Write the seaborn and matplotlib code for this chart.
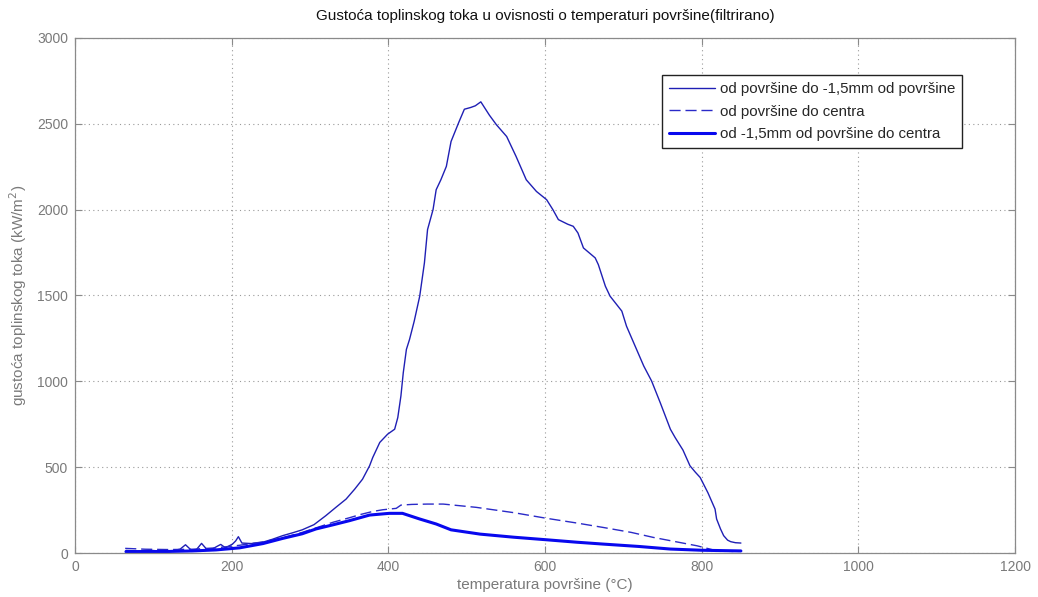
import numpy as np
import pandas as pd
import matplotlib
matplotlib.use("Agg")
import matplotlib.pyplot as plt
import seaborn as sns

# ---- data ----
x_surf_15 = [65, 80, 95, 110, 125, 134, 141, 148, 155, 161.5, 168, 176, 181, 186, 192, 201, 205, 208.5, 213,
             225, 239, 252, 265, 278, 290, 305, 320, 333, 346, 357, 367, 376, 380, 389, 399, 408, 412, 416,
             419, 423, 427, 433, 440, 446, 450, 457, 461, 467, 474, 480, 490, 497, 505, 511, 518, 529, 538,
             551, 563, 576, 589, 602, 610, 617, 629, 636, 642, 649, 664, 668, 677, 683, 698, 704, 715, 726,
             736, 747, 760, 766, 776, 785, 792, 798, 808, 817, 819, 824, 828, 833, 837, 843, 850]
y_surf_15 = [15, 12, 16, 11, 14, 22, 48, 18, 20, 56, 22, 25, 38, 50, 30, 52, 70, 95, 58,
             55, 62, 80, 101, 118, 135, 165, 217, 266, 314, 372, 430, 508, 556, 644, 692, 721, 789, 915,
             1050, 1186, 1244, 1351, 1496, 1690, 1884, 2000, 2116, 2174, 2252, 2397, 2510, 2585, 2595, 2605, 2628, 2550, 2494,
             2426, 2310, 2174, 2106, 2058, 2000, 1942, 1915, 1903, 1864, 1777, 1719, 1680, 1554, 1496, 1409, 1321, 1205, 1089,
             1002, 876, 721, 673, 600, 508, 470, 440, 350, 256, 198, 140, 101, 75, 66, 60, 58]

x_surf_c = [64, 90, 120, 150, 180, 210, 240, 265, 290, 310, 330, 350, 365, 380, 393, 410, 416, 430, 450, 470,
            512, 560, 602, 640, 674, 710, 738, 770, 794, 819, 845]
y_surf_c = [27, 22, 20, 22, 30, 45, 65, 88, 120, 150, 180, 205, 225, 242, 252, 260, 279, 283, 285, 285,
            266, 235, 202, 175, 149, 120, 91, 63, 42, 13, 8]

x_15_c = [65, 90, 120, 150, 180, 210, 240, 265, 290, 307.5, 330, 350, 376, 401, 418, 440, 461, 480, 517,
          560, 602, 640, 674, 720, 760, 800, 850]
y_15_c = [8, 8, 9, 12, 18, 30, 55, 85, 112, 140, 165, 188, 221, 231, 231, 198, 169, 135, 110,
          92, 77, 63, 52, 38, 23, 16, 12]

labels = ["od površine do -1,5mm od površine", "od površine do centra", "od -1,5mm od površine do centra"]

frames = [
    pd.DataFrame({"T": x_surf_15, "q": y_surf_15, "serija": labels[0]}),
    pd.DataFrame({"T": x_surf_c, "q": y_surf_c, "serija": labels[1]}),
    pd.DataFrame({"T": x_15_c, "q": y_15_c, "serija": labels[2]}),
]

sns.set_theme(style="white")
plt.rcParams["font.family"] = ["Liberation Sans", "DejaVu Sans"]

fig = plt.figure(figsize=(10.38, 5.97), dpi=100)
ax = fig.add_axes([0.0723, 0.0737, 0.9056, 0.8627])

styles = [
    dict(color="#1f1fb4", linewidth=1.0, linestyle="-"),
    dict(color="#2a2ac8", linewidth=1.0, linestyle=(0, (8, 3.5))),
    dict(color="#0808ee", linewidth=2.2, linestyle="-"),
]
for df, st, lab in zip(frames, styles, labels):
    sns.lineplot(data=df, x="T", y="q", ax=ax, sort=False, estimator=None,
                 label=lab, **st)

ax.set_xlim(0, 1200)
ax.set_ylim(0, 3000)
ax.set_xticks(np.arange(0, 1201, 200))
ax.set_yticks(np.arange(0, 3001, 500))
ax.grid(True, linestyle=(0, (1, 3)), color="#9a9a9a", linewidth=0.8)
for s in ax.spines.values():
    s.set_color("#8a8a8a")
    s.set_linewidth(0.9)
    s.set_visible(True)
ax.tick_params(direction="in", length=5, width=0.8, color="#8a8a8a",
               labelcolor="#7a7a7a", labelsize=10, top=True, right=True,
               bottom=True, left=True, pad=5)

ax.set_xlabel("temperatura površine (°C)", color="#7a7a7a", fontsize=11, labelpad=3)
ax.set_ylabel("gustoća toplinskog toka (kW/m$^2$)", color="#7a7a7a", fontsize=11, labelpad=6)
ax.set_title("Gustoća toplinskog toka u ovisnosti o temperaturi površine(filtrirano)",
             color="#111111", fontsize=11, pad=13)

leg = ax.legend(loc="upper left", bbox_to_anchor=(0.6245, 0.928), frameon=True,
                fancybox=False, shadow=False, fontsize=10.8, handlelength=3.1,
                handletextpad=0.3, borderpad=0.45, labelspacing=0.58, borderaxespad=0)
leg.get_frame().set_edgecolor("#222222")
leg.get_frame().set_linewidth(1.0)
leg.get_frame().set_facecolor("white")
leg.get_frame().set_alpha(1)

fig.savefig("out.png", dpi=100, facecolor="white")
